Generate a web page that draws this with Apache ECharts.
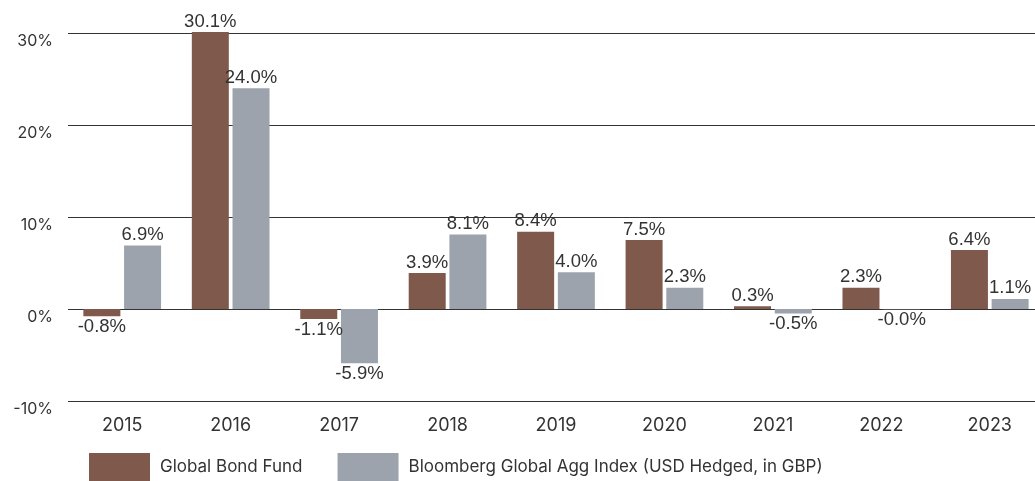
<!DOCTYPE html>
<html>
<head>
<meta charset="utf-8">
<script src="https://cdn.jsdelivr.net/npm/echarts@6/dist/echarts.min.js"></script>
<style>
html,body{margin:0;padding:0;background:#fff;}
#chart{width:1035px;height:481px;}
</style>
</head>
<body>
<div id="chart"></div>
<script>
const categories = ['2015','2016','2017','2018','2019','2020','2021','2022','2023'];
const fundValues = [-0.8, 30.1, -1.1, 3.9, 8.4, 7.5, 0.3, 2.3, 6.4];
const indexValues = [6.9, 24.0, -5.9, 8.1, 4.0, 2.3, -0.5, -0.04, 1.1];
const seriesNames = ['Global Bond Fund', 'Bloomberg Global Agg Index (USD Hedged, in GBP)'];
const colors = ['#7F594B', '#9CA3AD'];

const chart = echarts.init(document.getElementById('chart'), null, {renderer: 'canvas'});
const labelFont = '"Liberation Sans", Arial, sans-serif';
const axisFont = 'Inter, "Liberation Sans", sans-serif';

function makeData(vals) {
  return vals.map(v => ({
    value: v,
    label: { position: v < 0 ? 'bottom' : 'top' }
  }));
}

function makeSeries(name, vals, color) {
  return {
    name: name,
    type: 'bar',
    data: makeData(vals),
    barWidth: 37,
    barGap: '10%',
    clip: false,
    itemStyle: { color: color },
    label: {
      show: true,
      distance: 1,
      color: '#333',
      fontSize: 18.5,
      fontFamily: labelFont,
      formatter: p => p.value.toFixed(1) + '%'
    },
    z: 3
  };
}

chart.setOption({
  animation: false,
  color: colors,
  grid: { left: 68, right: -9, top: 33, bottom: 80, containLabel: false, outerBoundsMode: 'none' },
  legend: {
    left: 89, top: 453,
    padding: 0,
    icon: 'rect',
    itemWidth: 61, itemHeight: 28,
    itemGap: 35,
    textStyle: { color: '#333', fontSize: 17, fontFamily: axisFont, padding: [8,0,0,5] },
    data: seriesNames
  },
  xAxis: {
    type: 'category',
    data: categories,
    axisLine: { show: false },
    axisTick: { show: false },
    axisLabel: { color: '#333', fontSize: 18, fontFamily: axisFont, margin: 16 }
  },
  yAxis: {
    type: 'value',
    min: -10, max: 30, interval: 10,
    axisLine: { show: false },
    axisTick: { show: false },
    splitLine: { lineStyle: { color: '#333', width: 1 } },
    axisLabel: { color: '#333', fontSize: 16, fontFamily: axisFont, margin: 15, verticalAlign: 'top', formatter: v => v + '%' }
  },
  series: [
    makeSeries(seriesNames[0], fundValues, colors[0]),
    makeSeries(seriesNames[1], indexValues, colors[1])
  ]
});
</script>
</body>
</html>
